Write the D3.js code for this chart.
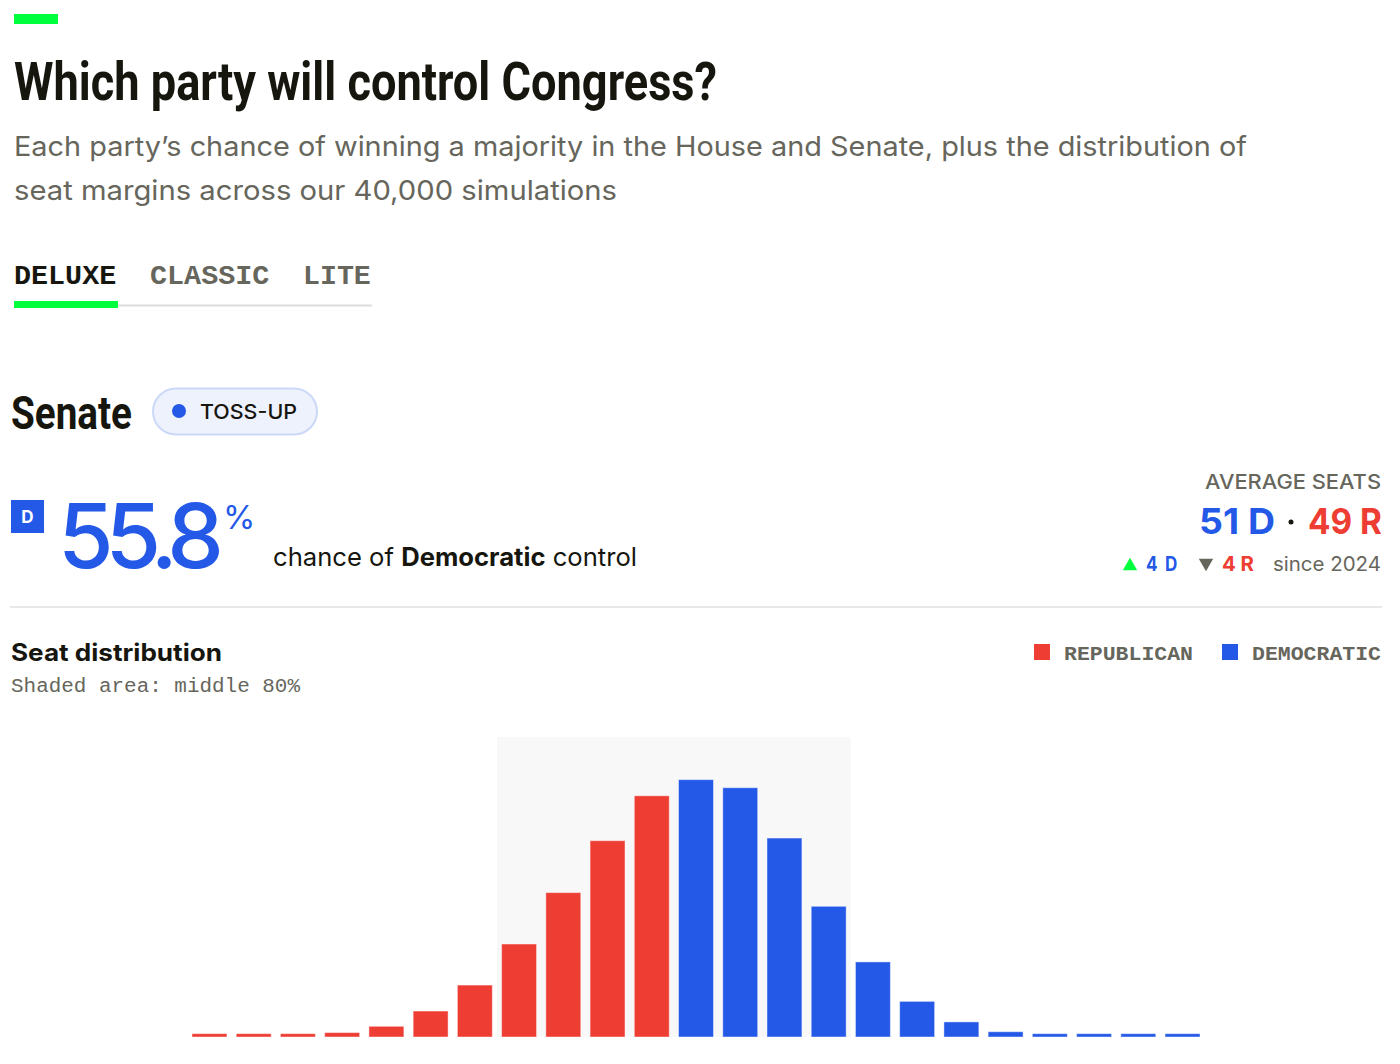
<!DOCTYPE html>
<html>
<head>
<meta charset="utf-8">
<script src="https://cdn.jsdelivr.net/npm/d3@7"></script>
<style>
  body { margin: 0; background: #fff; }
  svg { display: block; }
</style>
</head>
<body>
<svg id="chart" width="1400" height="1064"></svg>
<script>
// Senate seats won by Democrats in each simulation bucket
const dSeats = [40, 41, 42, 43, 44, 45, 46, 47, 48, 49, 50, 51, 52, 53, 54, 55, 56, 57, 58, 59, 60, 61, 62];
// share of the 40,000 simulations, percent
const shares = [0.19, 0.19, 0.19, 0.25, 0.61, 1.48, 2.96, 5.30, 8.23, 11.19, 13.75,
                14.67, 14.21, 11.34, 7.45, 4.28, 2.03, 0.86, 0.30, 0.19, 0.19, 0.19, 0.19];
const middle80 = [47, 54];
const majority = 51;

const tabs = ["DELUXE", "CLASSIC", "LITE"];
const legendItems = ["REPUBLICAN", "DEMOCRATIC"];
const subtitleLines = [
  "Each party\u2019s chance of winning a majority in the House and Senate, plus the distribution of",
  "seat margins across our 40,000 simulations"
];

const RED = "#ee3d33", BLUE = "#2459e8", GREEN = "#00ff3c";
const INK = "#16160f", GRAY = "#66665c";
const SANS = "Inter, 'Noto Sans', sans-serif";
const NARROW = "'Liberation Sans Narrow', Roboto, 'Liberation Sans', sans-serif";
const MONO = "'Liberation Mono', 'DejaVu Sans Mono', monospace";

const svg = d3.select("#chart");

// fit a text to a given width
function fit(sel, w) {
  sel.attr("textLength", w).attr("lengthAdjust", "spacingAndGlyphs");
  return sel;
}

// ---- header ----
svg.append("rect").attr("x", 14).attr("y", 14).attr("width", 44).attr("height", 10).attr("fill", GREEN);

fit(svg.append("text")
  .attr("x", 14).attr("y", 100)
  .attr("font-family", NARROW).attr("font-weight", 700).attr("font-size", 54)
  .attr("fill", INK)
  .text("Which party will control Congress?"), 703);

svg.selectAll("text.sub").data(subtitleLines).join("text")
  .attr("class", "sub")
  .attr("x", 14).attr("y", (d, i) => 156 + i * 44)
  .attr("font-family", SANS).attr("font-size", 27.5)
  .attr("fill", GRAY)
  .text(d => d)
  .each(function(d, i) { fit(d3.select(this), i === 0 ? 1233 : 603); });

// ---- tabs ----
const tabX = [14, 150, 303];
svg.append("line").attr("x1", 14).attr("x2", 372).attr("y1", 305.5).attr("y2", 305.5)
  .attr("stroke", "#dcdcdc").attr("stroke-width", 2);
svg.append("rect").attr("x", 14).attr("y", 301).attr("width", 104).attr("height", 7).attr("fill", GREEN);
svg.selectAll("text.tab").data(tabs).join("text")
  .attr("class", "tab")
  .attr("x", (d, i) => tabX[i]).attr("y", 284)
  .attr("font-family", MONO).attr("font-weight", 700).attr("font-size", 27)
  .attr("fill", (d, i) => i === 0 ? INK : GRAY)
  .text(d => d)
  .each(function(d) { fit(d3.select(this), d.length * 17.2 - 1); });

// ---- Senate heading + pill ----
fit(svg.append("text")
  .attr("x", 11).attr("y", 429)
  .attr("font-family", NARROW).attr("font-weight", 700).attr("font-size", 46)
  .attr("fill", INK).text("Senate"), 121);

svg.append("rect").attr("x", 153).attr("y", 388.5).attr("width", 164).attr("height", 46).attr("rx", 23)
  .attr("fill", "#eef2fd").attr("stroke", "#cbd8f8").attr("stroke-width", 2);
svg.append("circle").attr("cx", 179).attr("cy", 411).attr("r", 7).attr("fill", BLUE);
fit(svg.append("text").attr("x", 200).attr("y", 419)
  .attr("font-family", SANS).attr("font-weight", 500).attr("font-size", 20)
  .attr("fill", INK).text("TOSS-UP"), 97);

// ---- headline probability ----
svg.append("rect").attr("x", 11).attr("y", 500).attr("width", 33).attr("height", 33).attr("fill", BLUE);
svg.append("text").attr("x", 27.5).attr("y", 523).attr("text-anchor", "middle")
  .attr("font-family", SANS).attr("font-weight", 700).attr("font-size", 17)
  .attr("fill", "#fff").text("D");

const big = svg.append("text").attr("x", 58).attr("y", 568)
  .attr("font-family", SANS).attr("font-weight", 500).attr("font-size", 90)
  .attr("fill", BLUE).text("55.8");
const bigW = big.node().getComputedTextLength();
big.attr("letter-spacing", (166 - bigW) / 3);
svg.append("text").attr("x", 223).attr("y", 529)
  .attr("font-family", SANS).attr("font-size", 33)
  .attr("fill", BLUE).text("%");

const chance = svg.append("text").attr("x", 273).attr("y", 566)
  .attr("font-family", SANS).attr("font-size", 25.5).attr("fill", INK);
chance.append("tspan").text("chance of ");
chance.append("tspan").attr("font-weight", 700).text("Democratic");
chance.append("tspan").text(" control");
fit(chance, 364);

// ---- average seats ----
fit(svg.append("text").attr("x", 1205).attr("y", 489)
  .attr("font-family", SANS).attr("font-weight", 500).attr("font-size", 20)
  .attr("fill", GRAY).text("AVERAGE SEATS"), 176);

fit(svg.append("text").attr("x", 1199).attr("y", 534)
  .attr("font-family", SANS).attr("font-weight", 700).attr("font-size", 36)
  .attr("fill", BLUE).text("51 D"), 76);
svg.append("circle").attr("cx", 1291).attr("cy", 522).attr("r", 2.5).attr("fill", INK);
fit(svg.append("text").attr("x", 1308).attr("y", 534)
  .attr("font-family", SANS).attr("font-weight", 700).attr("font-size", 36)
  .attr("fill", RED).text("49 R"), 74);

svg.append("path").attr("d", d3.symbol(d3.symbolTriangle, 90)()).attr("transform", "translate(1130,566)")
  .attr("fill", GREEN);
fit(svg.append("text").attr("x", 1146).attr("y", 571)
  .attr("font-family", SANS).attr("font-weight", 700).attr("font-size", 20)
  .attr("fill", BLUE).attr("letter-spacing", 2).text("4 D"), 33);
svg.append("path").attr("d", d3.symbol(d3.symbolTriangle, 90)()).attr("transform", "translate(1206,563) rotate(180)")
  .attr("fill", GRAY);
fit(svg.append("text").attr("x", 1222).attr("y", 571)
  .attr("font-family", SANS).attr("font-weight", 700).attr("font-size", 20)
  .attr("fill", RED).text("4 R"), 32);
fit(svg.append("text").attr("x", 1273).attr("y", 571)
  .attr("font-family", SANS).attr("font-size", 20)
  .attr("fill", GRAY).text("since 2024"), 108);

svg.append("line").attr("x1", 10).attr("x2", 1382).attr("y1", 607).attr("y2", 607)
  .attr("stroke", "#e8e8e8").attr("stroke-width", 2);

// ---- distribution header + legend ----
fit(svg.append("text").attr("x", 11).attr("y", 661)
  .attr("font-family", SANS).attr("font-weight", 700).attr("font-size", 24)
  .attr("fill", INK).text("Seat distribution"), 211);
fit(svg.append("text").attr("x", 11).attr("y", 692)
  .attr("font-family", MONO).attr("font-size", 20)
  .attr("fill", GRAY).text("Shaded area: middle 80%"), 289);

const legendX = [1034, 1222];
const legend = svg.selectAll("g.legend").data(legendItems).join("g")
  .attr("class", "legend")
  .attr("transform", (d, i) => `translate(${legendX[i]},644)`);
legend.append("rect").attr("width", 16).attr("height", 16).attr("fill", (d, i) => i === 0 ? RED : BLUE);
legend.append("text").attr("x", 30).attr("y", 16)
  .attr("font-family", MONO).attr("font-weight", 700).attr("font-size", 21)
  .attr("fill", GRAY).text(d => d)
  .each(function() { fit(d3.select(this), 129); });

// ---- bars ----
const x = d3.scaleBand().domain(dSeats).range([192, 1200]).paddingInner(0.21).paddingOuter(0);
const y = d3.scaleLinear().domain([0, 17.1]).range([1037, 737]);
const gap = x.step() * x.paddingInner() / 2;

svg.append("rect")
  .attr("x", x(middle80[0]) - gap)
  .attr("y", y.range()[1])
  .attr("width", x(middle80[1]) + x.bandwidth() + gap - (x(middle80[0]) - gap))
  .attr("height", y.range()[0] - y.range()[1])
  .attr("fill", "#f8f8f8");

svg.append("g").selectAll("rect").data(dSeats).join("rect")
  .attr("x", d => x(d))
  .attr("width", x.bandwidth())
  .attr("y", (d, i) => y(shares[i]))
  .attr("height", (d, i) => y(0) - y(shares[i]))
  .attr("fill", d => d >= majority ? BLUE : RED)
  .attr("stroke", "#fff").attr("stroke-opacity", 0.45).attr("stroke-width", 1);
</script>
</body>
</html>
